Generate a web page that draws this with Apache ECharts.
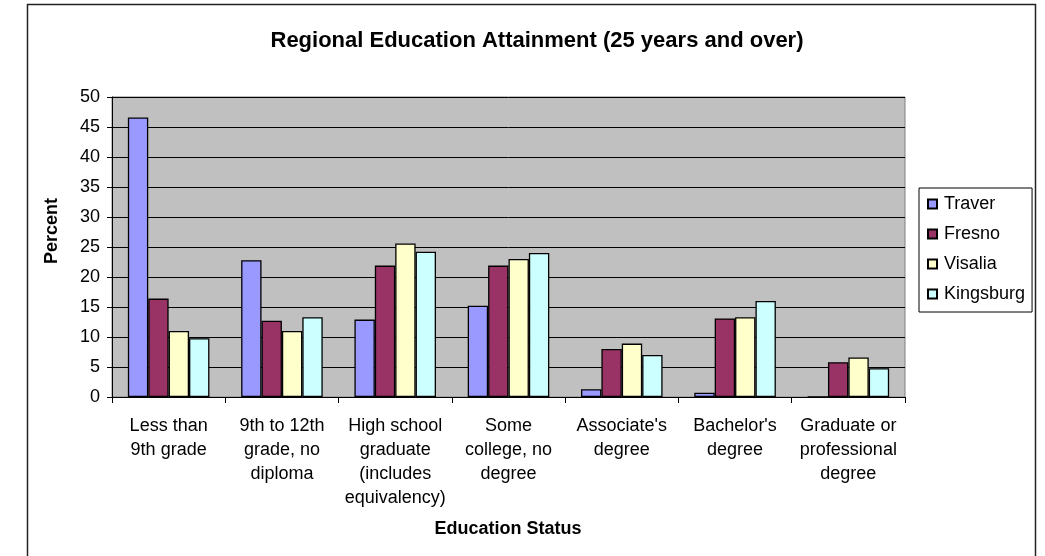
<!DOCTYPE html>
<html>
<head>
<meta charset="utf-8">
<script src="https://cdn.jsdelivr.net/npm/echarts@6/dist/echarts.min.js"></script>
<style>
  html, body { margin: 0; padding: 0; background: #fff; }
  #chart { width: 1045px; height: 556px; }
</style>
</head>
<body>
<div id="chart"></div>
<script>
// Education status categories (label line breaks as displayed under the axis)
const categories = [
  'Less than\n9th grade',
  '9th to 12th\ngrade, no\ndiploma',
  'High school\ngraduate\n(includes\nequivalency)',
  'Some\ncollege, no\ndegree',
  "Associate's\ndegree",
  "Bachelor's\ndegree",
  'Graduate or\nprofessional\ndegree'
];

// Percent of population aged 25 and over, by place
const traver    = [46.6, 22.8, 12.9, 15.2, 1.3, 0.7, 0.0];
const fresno    = [16.4, 12.7, 21.9, 21.9, 8.0, 13.1, 5.8];
const visalia   = [11.0, 11.0, 25.6, 23.0, 8.9, 13.3, 6.6];
const kingsburg = [9.8, 13.3, 24.2, 24.0, 7.0, 16.0, 4.8];

const seriesNames = ['Traver', 'Fresno', 'Visalia', 'Kingsburg'];
const seriesData = [traver, fresno, visalia, kingsburg];
const seriesColors = ['#9999FF', '#993366', '#FFFFCC', '#CCFFFF'];

// Value axis ticks
const yMin = 0, yMax = 50, yStep = 5;

const FONT = "'Liberation Sans', Arial, sans-serif";

const chart = echarts.init(document.getElementById('chart'), null, { renderer: 'canvas' });

chart.setOption({
  animation: false,
  backgroundColor: '#ffffff',
  textStyle: { fontFamily: FONT, color: '#000' },
  title: {
    text: 'Regional Education Attainment (25 years and over)',
    left: 532, top: 25, textAlign: 'center',
    textStyle: { fontFamily: FONT, fontSize: 22, fontWeight: 'bold', color: '#000' }
  },
  legend: {
    orient: 'vertical',
    left: 919, top: 188,
    padding: [7, 7, 9, 8],
    itemWidth: 9, itemHeight: 9, itemGap: 12,
    backgroundColor: '#ffffff',
    borderColor: '#000', borderWidth: 1, borderRadius: 0,
    icon: 'rect',
    textStyle: { fontFamily: FONT, fontSize: 18, color: '#000', padding: [0, 0, 0, 2] },
    data: seriesNames
  },
  grid: {
    left: 112, right: 140, top: 97, bottom: 159,
    show: true, backgroundColor: '#C0C0C0',
    borderColor: '#808080', borderWidth: 1
  },
  xAxis: {
    type: 'category',
    data: categories,
    axisLine: { lineStyle: { color: '#000', width: 1 } },
    axisTick: { show: true, length: 6, lineStyle: { color: '#000' } },
    axisLabel: {
      interval: 0, margin: 17,
      fontFamily: FONT, fontSize: 18, lineHeight: 24, color: '#000', align: 'center'
    }
  },
  yAxis: {
    type: 'value',
    min: yMin, max: yMax, interval: yStep,
    axisLine: { show: true, lineStyle: { color: '#000', width: 1 } },
    axisTick: { show: true, length: 5, lineStyle: { color: '#000' } },
    axisLabel: { margin: 12, fontFamily: FONT, fontSize: 18, color: '#000' },
    splitLine: { show: true, lineStyle: { color: '#000', width: 1 } }
  },
  series: seriesNames.map((name, i) => ({
    name,
    type: 'bar',
    data: seriesData[i],
    barGap: '0%',
    barCategoryGap: '28%',
    itemStyle: { color: seriesColors[i], borderColor: '#000', borderWidth: 1.3 }
  })),
  graphic: [
    {
      type: 'rect', silent: true, z: -1,
      shape: { x: 27.5, y: 4.5, width: 1008, height: 600 },
      style: { fill: 'none', stroke: '#222', lineWidth: 1.5 }
    },
    {
      type: 'text', silent: true,
      x: 52, y: 231, rotation: Math.PI / 2,
      style: {
        text: 'Percent', fontFamily: FONT, fontSize: 18, fontWeight: 'bold',
        fill: '#000', align: 'center', verticalAlign: 'middle'
      }
    },
    {
      type: 'text', silent: true,
      x: 508, y: 529,
      style: {
        text: 'Education Status', fontFamily: FONT, fontSize: 18, fontWeight: 'bold',
        fill: '#000', align: 'center', verticalAlign: 'middle'
      }
    }
  ]
});
</script>
</body>
</html>
